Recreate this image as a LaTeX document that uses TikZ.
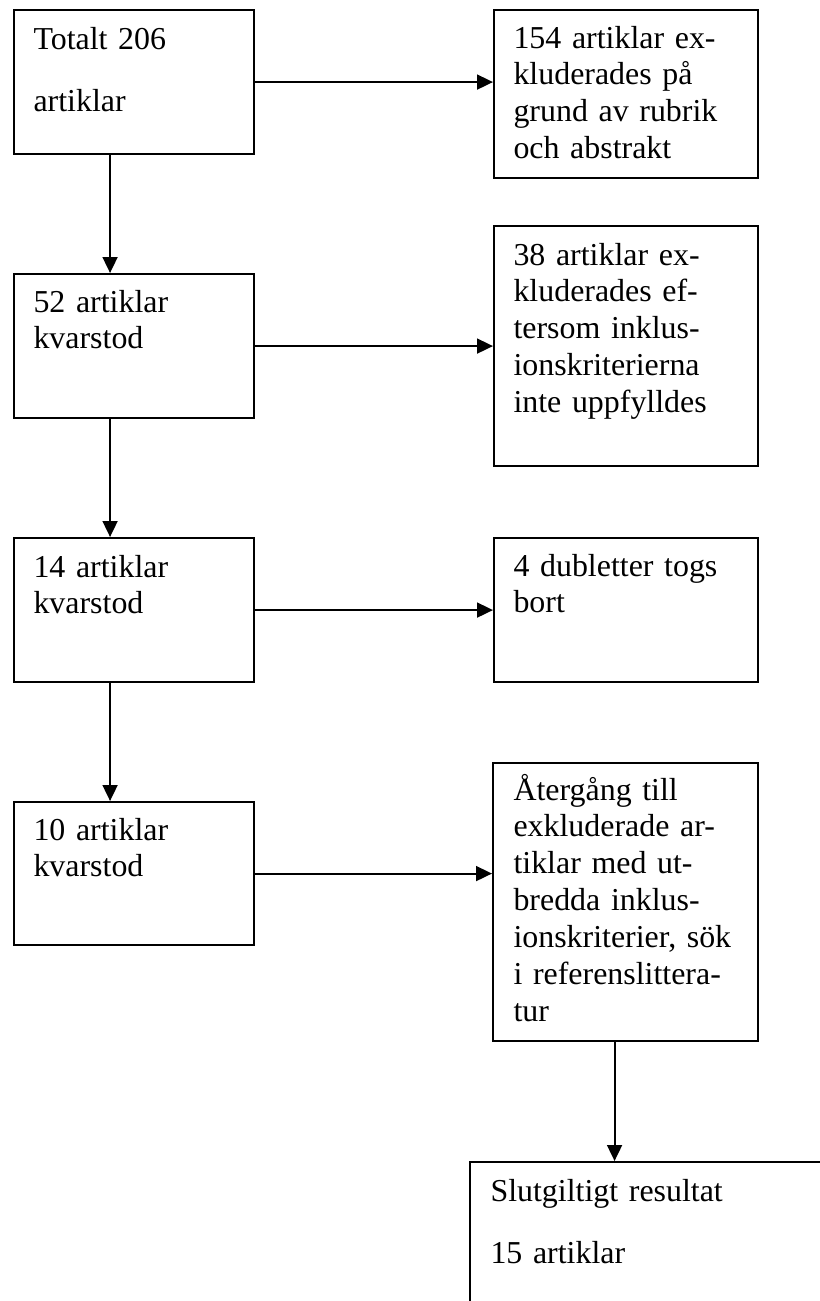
\documentclass[tikz,border=0pt]{standalone}
\usepackage{fontspec}
\setmainfont{Liberation Serif}
\usetikzlibrary{calc,arrows.meta}

\newcommand{\pxu}{0.376pt}

\tikzstyle{Block}=[rectangle,draw=black,line width=0.8pt,anchor=north west,
  inner sep=0pt]
\tikzstyle{BlockText}=[anchor=base west,inner sep=0pt,text width=230*\pxu,
  align=left,font=\fontsize{12pt}{13.9pt}\selectfont]
\tikzstyle{ArrowObject}=[black,line width=0.75pt,-{Triangle[length=6pt,width=5.6pt]}]

\begin{document}
\begin{tikzpicture}[x=0.376pt, y=-0.376pt]
		\useasboundingbox (0,0) rectangle (820,1301);
		\clip (0,0) rectangle (820,1301);
		
		% Left column
		\node[Block,minimum width=240*\pxu,minimum height=144*\pxu] (Total) at (13,9) {};
		\node[Block,minimum width=240*\pxu,minimum height=144*\pxu] (Left52) at (13,273) {};
		\node[Block,minimum width=240*\pxu,minimum height=144*\pxu] (Left14) at (13,537) {};
		\node[Block,minimum width=240*\pxu,minimum height=143*\pxu] (Left10) at (13,801) {};
		
		% Right column
		\node[Block,minimum width=264*\pxu,minimum height=168*\pxu] (Excl154) at (493,9) {};
		\node[Block,minimum width=264*\pxu,minimum height=240*\pxu] (Excl38) at (493,225) {};
		\node[Block,minimum width=264*\pxu,minimum height=144*\pxu] (Dupl4) at (493,537) {};
		\node[Block,minimum width=265*\pxu,minimum height=278*\pxu] (Return) at (492,762) {};
		\node[Block,minimum width=400*\pxu,minimum height=200*\pxu] (Final) at (469,1161) {};
		
		% Texts
		\node[BlockText] (TotalText) at ($(Total.north west)+(20,40)$)
		  {Totalt 206\\[9.5pt]artiklar};
		\node[BlockText] (Left52Text) at ($(Left52.north west)+(20,39)$)
		  {52 artiklar\\kvarstod};
		\node[BlockText] (Left14Text) at ($(Left14.north west)+(20,40)$)
		  {14 artiklar\\kvarstod};
		\node[BlockText] (Left10Text) at ($(Left10.north west)+(20,39)$)
		  {10 artiklar\\kvarstod};
		\node[BlockText] (Excl154Text) at ($(Excl154.north west)+(20,39)$)
		  {154 artiklar ex-\\kluderades på\\grund av rubrik\\och abstrakt};
		\node[BlockText] (Excl38Text) at ($(Excl38.north west)+(20,40)$)
		  {38 artiklar ex-\\kluderades ef-\\tersom inklus-\\ionskriterierna\\inte uppfylldes};
		\node[BlockText] (Dupl4Text) at ($(Dupl4.north west)+(20,39)$)
		  {4 dubletter togs\\bort};
		\node[BlockText] (ReturnText) at ($(Return.north west)+(21,38)$)
		  {Återgång till\\exkluderade ar-\\tiklar med ut-\\bredda inklus-\\ionskriterier, sök\\i referenslittera-\\tur};
		\node[BlockText,text width=320*\pxu] (FinalText) at ($(Final.north west)+(21,40)$)
		  {Slutgiltigt resultat\\[9.5pt]15 artiklar};
		
		% Arrows down the left column
		\draw[ArrowObject] ($(Total.south)+(-24,0)$) -- ($(Left52.north)+(-24,0)$);
		\draw[ArrowObject] ($(Left52.south)+(-24,0)$) -- ($(Left14.north)+(-24,0)$);
		\draw[ArrowObject] ($(Left14.south)+(-24,0)$) -- ($(Left10.north)+(-24,0)$);
		
		% Arrows to the right column
		\draw[ArrowObject] (Total.east) -- (Total.east -| Excl154.west);
		\draw[ArrowObject] (Left52.east) -- (Left52.east -| Excl38.west);
		\draw[ArrowObject] (Left14.east) -- (Left14.east -| Dupl4.west);
		\draw[ArrowObject] (Left10.east) -- (Left10.east -| Return.west);
		
		% Final result
		\coordinate (ReturnOut) at ($(Return.south)+(-11,0)$);
		\draw[ArrowObject] (ReturnOut) -- (ReturnOut |- Final.north);
		
	\end{tikzpicture}
\end{document}
